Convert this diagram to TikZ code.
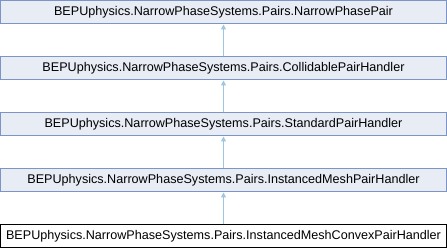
\documentclass[tikz,border=0pt]{standalone}
\usepackage{fontspec}
\setmainfont{Liberation Sans}
\usetikzlibrary{arrows.meta}
\definecolor{boxfill}{HTML}{E8ECF5}
\definecolor{boxline}{HTML}{7C95C6}
\definecolor{inherit}{HTML}{9CC6E2}
\begin{document}
\begin{tikzpicture}[x=1pt,y=1pt,
  cls/.style={draw=boxline,fill=boxfill,line width=1pt,minimum width=446pt,minimum height=23pt,
    inner sep=0pt,font=\fontsize{12.6pt}{14pt}\selectfont,anchor=north},
  cur/.style={cls,draw=black,fill=white},
  inh/.style={draw=inherit,line width=1pt,-{Triangle[length=5pt,width=5pt]}}]
\useasboundingbox (0,0) rectangle (447,248);
\node[cls] (n1) at (223.5,247.5) {BEPUphysics.NarrowPhaseSystems.Pairs.NarrowPhasePair};
\node[cls] (n2) at (223.5,191.5) {BEPUphysics.NarrowPhaseSystems.Pairs.CollidablePairHandler};
\node[cls] (n3) at (223.5,135.5) {BEPUphysics.NarrowPhaseSystems.Pairs.StandardPairHandler};
\node[cls] (n4) at (223.5,79.5) {BEPUphysics.NarrowPhaseSystems.Pairs.InstancedMeshPairHandler};
\node[cur] (n5) at (223.5,23.5) {BEPUphysics.NarrowPhaseSystems.Pairs.InstancedMeshConvexPairHandler};
\draw[inh] (n2.north) -- (n1.south);
\draw[inh] (n3.north) -- (n2.south);
\draw[inh] (n4.north) -- (n3.south);
\draw[inh] (n5.north) -- (n4.south);
\end{tikzpicture}
\end{document}
